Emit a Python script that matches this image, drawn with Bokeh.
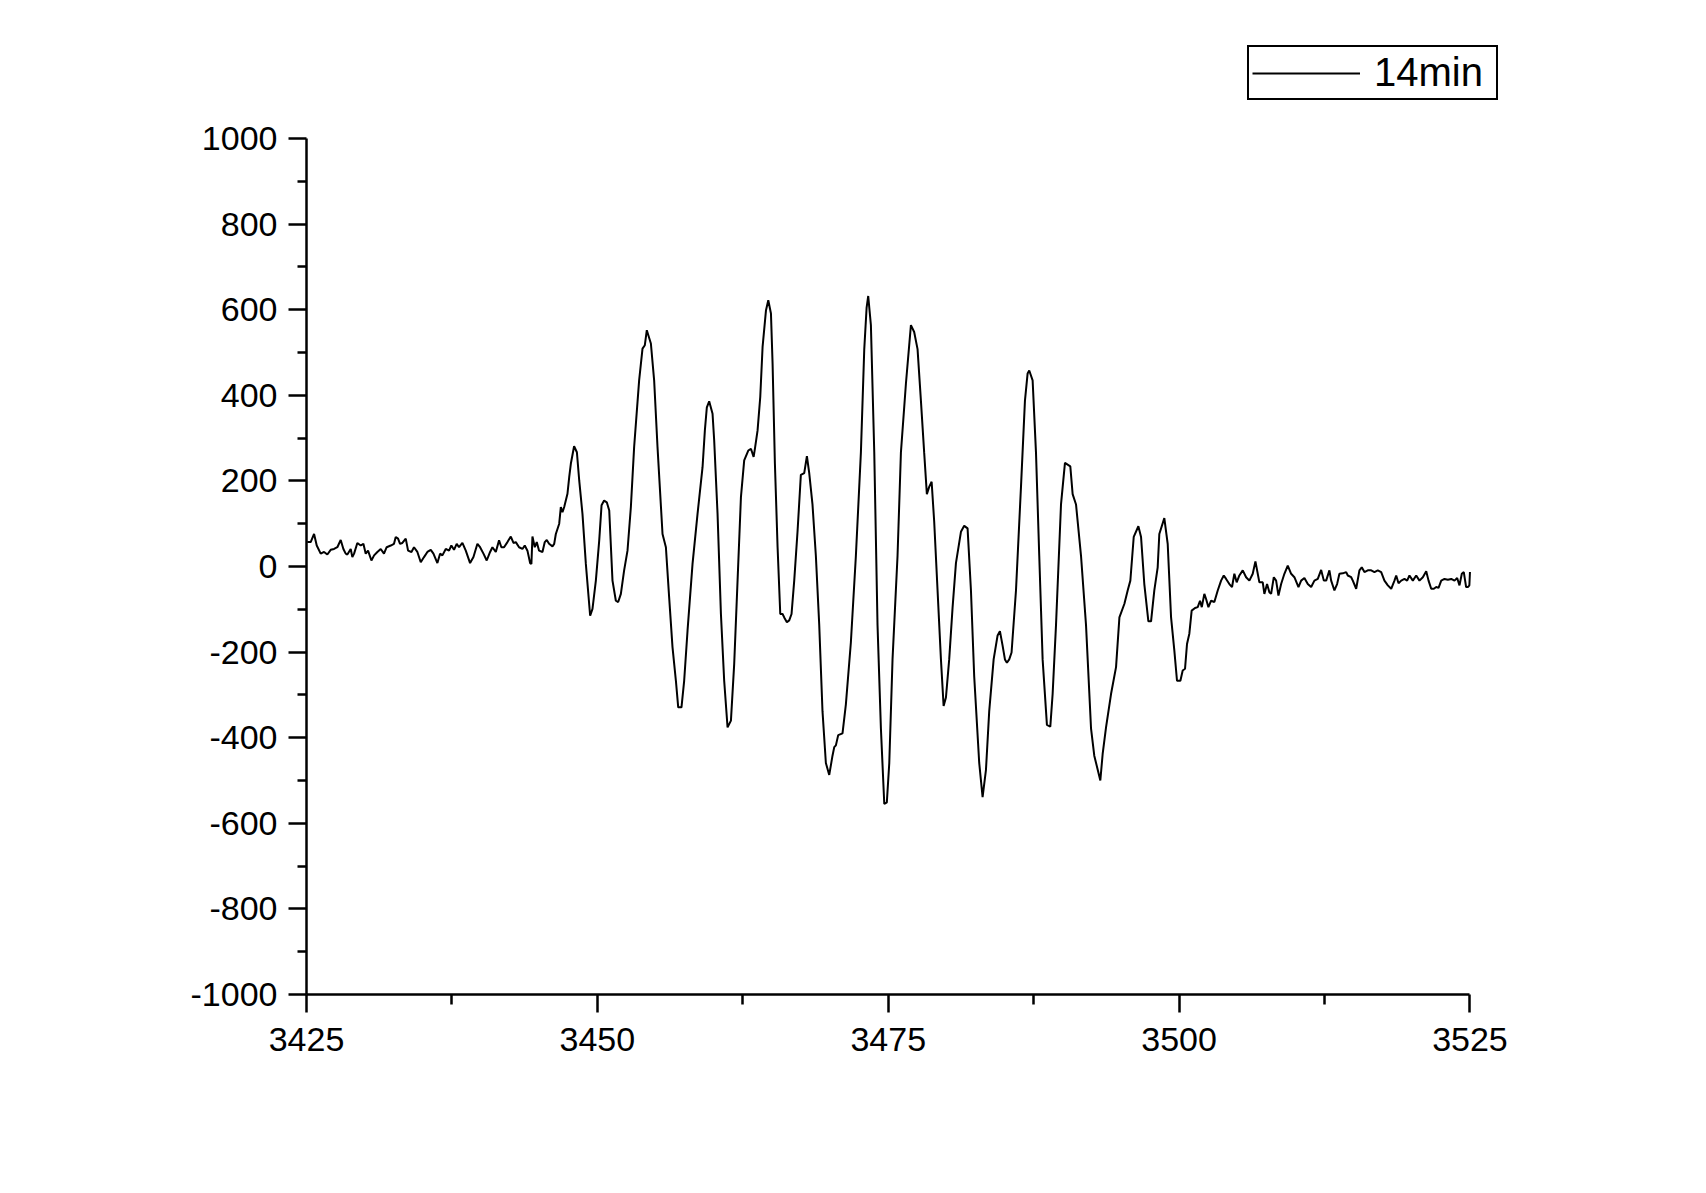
from bokeh.plotting import figure
from bokeh.models import Range1d, FixedTicker, Legend, LegendItem
from bokeh.embed import file_html
from bokeh.resources import INLINE

# ---- data (field, signal) ----
x_values = [
    3425.07, 3425.36, 3425.65, 3425.88, 3426.22, 3426.51, 3426.79, 3427.08, 3427.37, 3427.65,
    3427.94, 3428.17, 3428.37, 3428.51, 3428.8, 3428.94, 3429.09, 3429.37, 3429.66, 3429.89,
    3430.09, 3430.29, 3430.58, 3430.81, 3431.09, 3431.38, 3431.66, 3431.89, 3432.24, 3432.52,
    3432.67, 3432.87, 3433.04, 3433.24, 3433.53, 3433.73, 3434.02, 3434.24, 3434.53, 3434.82,
    3435.1, 3435.39, 3435.68, 3435.91, 3436.25, 3436.48, 3436.68, 3436.97, 3437.25, 3437.45,
    3437.68, 3437.91, 3438.11, 3438.4, 3438.69, 3439.06, 3439.35, 3439.69, 3439.92, 3440.21,
    3440.49, 3440.78, 3440.98, 3441.27, 3441.55, 3441.75, 3441.98, 3442.27, 3442.56, 3442.79,
    3442.99, 3443.27, 3443.56, 3443.76, 3443.99, 3444.22, 3444.33, 3444.42, 3444.62, 3444.79,
    3444.99, 3445.28, 3445.48, 3445.65, 3445.85, 3446.14,
    3446.29, 3446.43, 3446.72, 3446.86, 3447.0, 3447.15, 3447.43, 3447.58, 3447.72, 3448.0,
    3448.24, 3448.44, 3448.72, 3449.01, 3449.38, 3449.58, 3449.87, 3450.16, 3450.36, 3450.58,
    3450.81, 3451.02, 3451.3, 3451.59, 3451.79, 3452.02, 3452.3, 3452.59, 3452.88, 3453.16,
    3453.59, 3453.88, 3454.08, 3454.25, 3454.6, 3454.88, 3455.17, 3455.6, 3455.89, 3456.17,
    3456.46, 3456.75, 3456.95, 3457.23, 3457.46, 3457.75, 3458.18, 3458.61, 3459.04, 3459.24,
    3459.41, 3459.61, 3459.9, 3460.04, 3460.33, 3460.62, 3460.9, 3461.19, 3461.48, 3461.76,
    3462.05, 3462.34, 3462.62, 3462.97, 3463.2, 3463.43, 3463.54, 3463.77, 3464.0, 3464.2,
    3464.49, 3464.69, 3464.92, 3465.06, 3465.26, 3465.49, 3465.72, 3465.92, 3466.06, 3466.29,
    3466.49, 3466.69, 3466.92, 3467.21,
    3467.49, 3467.78, 3468.01, 3468.21, 3468.49, 3468.78, 3469.07, 3469.35, 3469.64, 3469.93,
    3470.21, 3470.36, 3470.5, 3470.7, 3471.07, 3471.36, 3471.79, 3472.22, 3472.65, 3472.94,
    3473.14, 3473.28, 3473.51, 3473.8, 3474.08, 3474.37, 3474.66, 3474.88, 3475.09, 3475.37,
    3475.8, 3476.09, 3476.52, 3476.95, 3477.23, 3477.52, 3477.81, 3478.09, 3478.32, 3478.52,
    3478.73, 3478.95, 3479.24, 3479.53, 3479.76, 3479.96, 3480.24, 3480.53, 3480.82, 3481.25,
    3481.53, 3481.82, 3482.11, 3482.39, 3482.82, 3483.11, 3483.4, 3483.68, 3484.06, 3484.4,
    3484.6, 3484.83, 3485.03, 3485.2, 3485.4, 3485.6, 3485.98, 3486.41, 3486.75, 3486.98,
    3487.12, 3487.41, 3487.7, 3487.98, 3488.27, 3488.64, 3488.93, 3489.13, 3489.42, 3489.85,
    3490.19, 3490.42, 3490.65, 3490.85, 3491.14, 3491.57, 3492.0, 3492.43, 3492.71,
    3493.23, 3493.43, 3493.72, 3494.15, 3494.58, 3494.87, 3495.3, 3495.58, 3495.81, 3496.1,
    3496.5, 3496.73, 3497.01, 3497.36, 3497.59, 3497.87, 3498.16, 3498.3, 3498.73, 3499.02,
    3499.31, 3499.59, 3499.82, 3500.11, 3500.31, 3500.51, 3500.68, 3500.88, 3501.08, 3501.37,
    3501.6, 3501.8, 3501.95, 3502.17, 3502.32, 3502.52, 3502.75, 3503.03, 3503.32, 3503.61,
    3503.84, 3504.04, 3504.32, 3504.55, 3504.75, 3504.95, 3505.18, 3505.47, 3505.76, 3506.04,
    3506.33, 3506.56, 3506.9, 3507.19, 3507.33, 3507.56, 3507.76, 3507.91, 3508.14, 3508.34,
    3508.54, 3508.77, 3509.05, 3509.34, 3509.63, 3509.91, 3510.26, 3510.49, 3510.77, 3511.06,
    3511.35, 3511.63, 3511.92, 3512.21, 3512.44, 3512.64, 3512.92, 3513.07, 3513.35, 3513.58,
    3513.78, 3514.07, 3514.36, 3514.5, 3514.79,
    3514.93, 3515.22, 3515.5, 3515.7, 3515.93, 3516.22, 3516.51, 3516.79, 3517.08, 3517.37,
    3517.65, 3517.94, 3518.23, 3518.51, 3518.66, 3518.86, 3519.09, 3519.37, 3519.6, 3519.8,
    3520.09, 3520.38, 3520.66, 3520.95, 3521.24, 3521.44, 3521.67, 3521.9, 3522.1, 3522.3,
    3522.53, 3522.81, 3523.1, 3523.39, 3523.67, 3523.9, 3524.1, 3524.3, 3524.47, 3524.67,
    3524.82, 3524.95, 3525.0,
]

y_values = [
    57, 57, 76, 49, 30, 34, 28, 39, 41, 45,
    62, 41, 30, 28, 41, 22, 30, 55, 49, 53,
    30, 37, 14, 26, 34, 41, 30, 45, 49, 53,
    69, 65, 53, 55, 65, 37, 34, 45, 34, 10,
    22, 34, 39, 30, 8, 30, 26, 41, 37, 49,
    39, 53, 45, 55, 37, 8, 22, 53, 45, 30,
    14, 34, 45, 34, 61, 45, 45, 57, 70, 55,
    57, 45, 41, 49, 37, 8, 6, 70, 45, 57,
    37, 34, 57, 62, 53, 47,
    53, 76, 100, 139, 127, 139, 170, 209, 240, 281,
    267, 201, 123, 6, -115, -99, -33, 61, 143, 154,
    150, 131, -33, -80, -83, -64, -9, 37, 139, 279,
    435, 509, 517, 552, 521, 435, 279, 76, 45, -72,
    -189, -267, -329, -329, -267, -150, 6, 123, 232, 318,
    372, 386, 357, 295, 123, -111, -267, -376, -360, -228,
    -33, 162, 248, 271, 275, 256, 275, 318, 396, 513,
    598, 622, 591, 474, 240, 45, -111, -111, -119, -130,
    -126, -111, -33, 84,
    214, 218, 258, 218, 145, 25, -137, -338, -459, -487,
    -442, -422, -418, -394, -390, -322, -177, 25, 266, 508,
    604, 632, 564, 266, -137, -378, -555, -551, -459, -217,
    25, 266, 427, 564, 548, 508, 387, 266, 169, 186,
    198, 105, -56, -217, -326, -306, -217, -96, 8, 81,
    95, 89, -56, -257, -459, -539, -475, -338, -217, -161,
    -151, -185, -217, -225, -217, -201, -56, 186, 387, 451,
    458, 435, 266, 25, -217, -370, -374, -298, -137, 145,
    242, 238, 234, 169, 145, 25, -137, -378, -442,
    -500, -438, -376, -298, -235, -119, -87, -56, -33, 69,
    94, 69, -41, -128, -128, -56, -2, 76, 113, 53,
    -119, -196, -267, -267, -243, -239, -181, -157, -103, -97,
    -95, -80, -95, -64, -76, -95, -80, -83, -56, -33,
    -21, -29, -41, -48, -17, -37, -21, -9, -25, -33,
    -17, 12, -37, -37, -64, -41, -60, -64, -25, -33,
    -68, -41, -17, 2, -17, -25, -48, -33, -27, -41,
    -48, -33, -29, -8, -33, -33, -9, -33, -56, -41,
    -17, -16, -13, -21, -25,
    -33, -52, -9, -2, -13, -9, -9, -13, -9, -13,
    -33, -44, -52, -33, -21, -39, -33, -29, -33, -21,
    -33, -21, -33, -25, -11, -33, -52, -52, -48, -50,
    -33, -29, -31, -29, -33, -27, -44, -17, -13, -48,
    -48, -44, -13,
]

x_ticks = [3425, 3450, 3475, 3500, 3525]
x_tick_labels = ["3425", "3450", "3475", "3500", "3525"]
x_minor_ticks = [3437.5, 3462.5, 3487.5, 3512.5]
y_ticks = [-1000, -800, -600, -400, -200, 0, 200, 400, 600, 800, 1000]
y_tick_labels = ["-1000", "-800", "-600", "-400", "-200", "0", "200", "400", "600", "800", "1000"]
y_minor_ticks = [-900, -700, -500, -300, -100, 100, 300, 500, 700, 900]
series_label = "14min"

X_MIN, X_MAX = 3425, 3525
Y_MIN, Y_MAX = -1000, 1000

# frame extends past the axes' bounds so the legend (drawn above the
# axis area, as in the reference) is not clipped
p = figure(
    width=1690, height=1177,
    output_backend="svg", toolbar_location=None,
    x_range=Range1d(X_MIN, 3529), y_range=Range1d(Y_MIN, 1233.64),
    min_border_left=306, min_border_right=174,
    min_border_top=38, min_border_bottom=183,
)
p.outline_line_color = None
p.xgrid.visible = False
p.ygrid.visible = False
p.background_fill_color = "white"
p.border_fill_color = "white"

r = p.line(x_values, y_values, line_color="black", line_width=2)

FONT = "Liberation Sans"
for ax in (p.xaxis[0], p.yaxis[0]):
    ax.axis_line_color = "black"
    ax.axis_line_width = 2.5
    ax.major_tick_line_color = "black"
    ax.major_tick_line_width = 2.5
    ax.minor_tick_line_color = "black"
    ax.minor_tick_line_width = 2.5
    ax.major_tick_in = 0
    ax.major_tick_out = 18
    ax.minor_tick_in = 0
    ax.major_label_text_font = FONT
    ax.major_label_text_color = "black"
    ax.major_label_text_font_size = "34px"

p.xaxis.bounds = (X_MIN, X_MAX)
p.yaxis.bounds = (Y_MIN, Y_MAX)
p.xaxis.ticker = FixedTicker(ticks=x_ticks, minor_ticks=x_minor_ticks)
p.yaxis.ticker = FixedTicker(ticks=y_ticks, minor_ticks=y_minor_ticks)
p.xaxis.major_label_overrides = {t: s for t, s in zip(x_ticks, x_tick_labels)}
p.yaxis.major_label_overrides = {t: s for t, s in zip(y_ticks, y_tick_labels)}
p.xaxis.minor_tick_out = 10
p.yaxis.minor_tick_out = 9
p.xaxis.major_label_standoff = 15
p.yaxis.major_label_standoff = 11

legend = Legend(
    items=[LegendItem(label=series_label, renderers=[r])],
    location=(941, 894),
    padding=3, margin=0, spacing=0,
    glyph_width=108, glyph_height=20,
    label_standoff=14, label_width=119,
    label_text_font=FONT, label_text_font_size="40px",
    label_text_color="black",
    border_line_color="black", border_line_width=2, border_line_alpha=1.0,
    background_fill_color="white", background_fill_alpha=1.0,
)
p.add_layout(legend)

open("out.html", "w").write(file_html(p, INLINE))
